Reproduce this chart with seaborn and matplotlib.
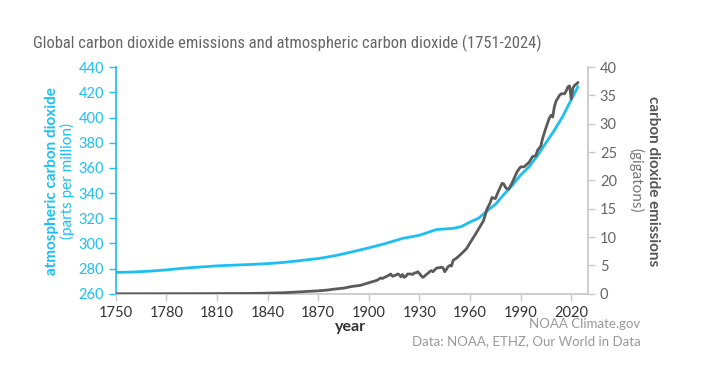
import matplotlib
matplotlib.use("Agg")
import matplotlib.pyplot as plt
import seaborn as sns
from matplotlib import font_manager

# atmospheric CO2 (ppm)
co2_years = [1750, 1760, 1770, 1780, 1790, 1800, 1810, 1820, 1830, 1840, 1850,
             1860, 1870, 1880, 1890, 1900, 1910, 1920, 1930, 1940, 1945, 1950,
             1955, 1960, 1965, 1970, 1975, 1980, 1985, 1990, 1995, 2000, 2005,
             2010, 2015, 2020, 2024]
co2_ppm = [277.0, 277.3, 278.0, 279.0, 280.3, 281.3, 282.2, 282.8, 283.3, 284.0, 285.0,
           286.5, 288.0, 290.3, 293.3, 296.5, 300.0, 304.0, 306.5, 311.0, 311.5, 312.0,
           313.5, 317.0, 320.0, 325.7, 331.0, 338.8, 346.0, 354.4, 360.9, 369.7, 379.9,
           389.9, 401.0, 414.2, 424.5]

# fossil CO2 emissions (gigatons)
em_years = [1750, 1760, 1780, 1800, 1820, 1830, 1840, 1850, 1860, 1870, 1875,
            1880, 1885, 1890, 1895, 1900, 1905, 1907, 1908, 1910, 1912, 1913,
            1914, 1916, 1917, 1918, 1919, 1920, 1921, 1922, 1923, 1925, 1926,
            1927, 1928, 1929, 1930, 1931, 1932, 1933, 1934, 1935, 1936, 1937,
            1938, 1939, 1940, 1941, 1942, 1943, 1944, 1945, 1946, 1947, 1948,
            1949, 1950, 1952, 1955, 1958, 1960, 1963, 1965, 1968, 1970, 1972,
            1973, 1974, 1975, 1977, 1979, 1980, 1981, 1982, 1983, 1985, 1988,
            1990, 1992, 1995, 1997, 1999, 2000, 2002, 2003, 2005, 2007, 2008,
            2009, 2010, 2011, 2012, 2013, 2014, 2015, 2016, 2017, 2018, 2019,
            2020, 2021, 2022, 2023, 2024]
em_gt = [0.01, 0.01, 0.02, 0.03, 0.05, 0.07, 0.12, 0.2, 0.36, 0.53, 0.65,
         0.85, 1.0, 1.3, 1.5, 1.95, 2.4, 2.8, 2.7, 3.0, 3.3, 3.5,
         3.1, 3.3, 3.5, 3.4, 3.0, 3.4, 2.9, 3.1, 3.5, 3.5, 3.4,
         3.7, 3.7, 3.9, 3.6, 3.2, 2.9, 3.1, 3.4, 3.6, 3.9, 4.1,
         3.9, 4.2, 4.5, 4.6, 4.6, 4.7, 4.6, 3.9, 4.3, 4.8, 5.0,
         4.9, 5.9, 6.3, 7.1, 8.0, 9.0, 10.4, 11.4, 12.9, 14.9, 16.1,
         17.0, 16.9, 16.8, 18.2, 19.5, 19.4, 18.8, 18.5, 18.5, 19.6, 21.6,
         22.4, 22.4, 23.2, 24.2, 24.4, 25.3, 26.1, 27.4, 29.3, 31.0, 31.5,
         31.2, 33.0, 34.0, 34.5, 35.0, 35.3, 35.3, 35.3, 35.8, 36.5, 36.7,
         34.4, 36.3, 36.8, 37.0, 37.3]

x_ticks = [1750, 1780, 1810, 1840, 1870, 1900, 1930, 1960, 1990, 2020]
left_ticks = [260, 280, 300, 320, 340, 360, 380, 400, 420, 440]
right_ticks = [0, 5, 10, 15, 20, 25, 30, 35, 40]

CYAN = "#1cbff2"
GRAY = "#5a5a5a"
AXGRAY = "#c8c8c8"

sns.set_theme(style="white")
plt.rcParams["font.family"] = ["Lato", "DejaVu Sans"]

fig = plt.figure(figsize=(7.06, 3.65), dpi=100)
ax = fig.add_axes([0.164, 0.195, 0.669, 0.621])
ax2 = ax.twinx()

sns.lineplot(x=co2_years, y=co2_ppm, ax=ax, color=CYAN, linewidth=2)
sns.lineplot(x=em_years, y=em_gt, ax=ax2, color=GRAY, linewidth=2)

ax.set_xlim(1750, 2030)
ax.set_ylim(260, 440)
ax2.set_ylim(0, 40)
ax.set_xticks(x_ticks)
ax.set_yticks(left_ticks)
ax2.set_yticks(right_ticks)

for a in (ax, ax2):
    a.spines["top"].set_visible(False)
ax.spines["right"].set_visible(False)
ax.spines["left"].set_color(CYAN)
ax.spines["bottom"].set_color(AXGRAY)
ax2.spines["left"].set_visible(False)
ax2.spines["bottom"].set_visible(False)
ax2.spines["right"].set_color(AXGRAY)

ax.tick_params(axis="y", colors=CYAN, labelsize=10.5, length=5, width=1, direction="out", left=True)
ax.tick_params(axis="x", colors=AXGRAY, labelcolor="#333333", labelsize=10.5, length=5, width=1,
               direction="out", bottom=True)
ax2.tick_params(axis="y", colors=AXGRAY, labelcolor="#666666", labelsize=10.5, length=5, width=1,
                direction="out", right=True)

ax.set_xlabel("")
ax.set_ylabel("")
ax2.set_ylabel("")

# title: narrowest condensed face installed, scaled to a sensible width
names = {f.name for f in font_manager.fontManager.ttflist}
cond = [n for n in ("Noto Sans ExtraCondensed", "Roboto Condensed", "Noto Sans Condensed",
                    "Liberation Sans Narrow", "DejaVu Sans Condensed", "Noto Sans SemiCondensed")
        if n in names]
title_font = cond[0] if cond else "Roboto"
title = fig.text(0.047, 0.868,
                 "Global carbon dioxide emissions and atmospheric carbon dioxide (1751-2024)",
                 fontsize=15, color="#666666", family=[title_font, "DejaVu Sans"],
                 ha="left", va="baseline")
fig.canvas.draw()
w = title.get_window_extent(fig.canvas.get_renderer()).width
if w > 510:
    title.set_fontsize(15 * 510 / w)

fig.text(0.074, 0.505, "atmospheric carbon dioxide", rotation=90, color=CYAN,
         fontsize=11, fontweight="bold", ha="center", va="center")
fig.text(0.095, 0.505, "(parts per million)", rotation=90, color=CYAN,
         fontsize=11, ha="center", va="center")

fig.text(0.925, 0.505, "carbon dioxide emissions", rotation=270, color="#555555",
         fontsize=11, fontweight="bold", ha="center", va="center")
fig.text(0.901, 0.505, "(gigatons)", rotation=270, color="#777777",
         fontsize=11, ha="center", va="center")

fig.text(0.496, 0.103, "year", color="#333333", fontsize=11.5, fontweight="bold",
         ha="center", va="center")
fig.text(0.907, 0.112, "NOAA Climate.gov", color="#999999", fontsize=9.5, ha="right", va="center")
fig.text(0.907, 0.066, "Data: NOAA, ETHZ, Our World in Data", color="#999999", fontsize=9.5,
         ha="right", va="center")

fig.savefig("out.png", dpi=100)
